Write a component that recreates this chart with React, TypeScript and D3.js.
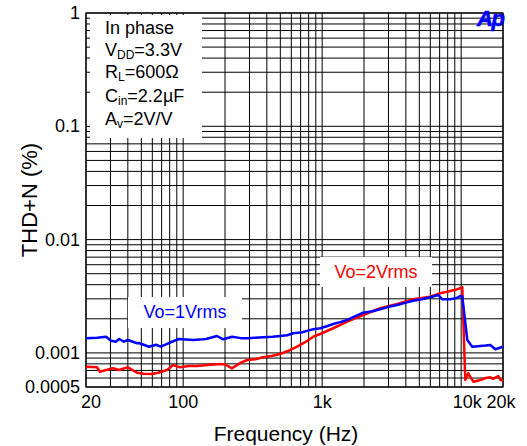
import React from "react";
import * as d3 from "d3";

const W = 527;
const H = 446;

const xTickValues = [20, 100, 1000, 10000, 20000];
const xTickLabels = ["20", "100", "1k", "10k", "20k"];
const yTickValues = [1, 0.1, 0.01, 0.001, 0.0005];
const yTickLabels = ["1", "0.1", "0.01", "0.001", "0.0005"];

const blueFreq = [20, 24, 27.9, 30.3, 32.9, 34.6, 37.5, 40, 46.6, 48, 56.8, 63.8, 69, 79, 93, 118, 139, 146, 175, 194, 225, 260, 289, 330, 376, 440, 499, 560, 619, 720, 800, 862, 968, 1080, 1200, 1350, 1514, 1750, 1974, 2300, 2616, 3000, 3468, 4000, 4520, 5200, 5994, 6840, 7311, 8350, 9300, 9854, 10186, 11068, 12024, 13730, 15000, 16208, 17608, 20000];
const blueThd = [0.001345, 0.00136, 0.00139, 0.00128, 0.001256, 0.001327, 0.001256, 0.0013, 0.001216, 0.001222, 0.001134, 0.00118, 0.001134, 0.001222, 0.001327, 0.0013, 0.001318, 0.001327, 0.00141, 0.001318, 0.00139, 0.00135, 0.001345, 0.00136, 0.001374, 0.00139, 0.00141, 0.00143, 0.001489, 0.00152, 0.00158, 0.001615, 0.001648, 0.00172, 0.001799, 0.00187, 0.001952, 0.00212, 0.002264, 0.00233, 0.002426, 0.00255, 0.002649, 0.00278, 0.00289, 0.00298, 0.003097, 0.003244, 0.002974, 0.002974, 0.00305, 0.003179, 0.00315, 0.0013, 0.001134, 0.001151, 0.00116, 0.001175, 0.001076, 0.001134];

const redFreq = [20, 22, 24, 25.2, 27.9, 31.3, 34.6, 40, 46.6, 52, 59.7, 66, 76.6, 84.6, 95, 110, 126, 150, 184, 200, 225, 260, 289, 330, 376, 430, 499, 580, 661, 760, 862, 968, 1200, 1514, 1974, 2616, 3468, 4520, 5994, 7074, 8350, 9400, 10186, 10706, 11252, 12220, 13730, 15000, 16208, 17000, 18500, 19126, 20000];
const redThd = [0.000755, 0.000752, 0.000746, 0.000682, 0.000706, 0.000731, 0.000706, 0.000746, 0.000668, 0.000655, 0.000651, 0.000668, 0.000706, 0.000782, 0.000746, 0.000766, 0.000766, 0.00078, 0.000798, 0.00079, 0.000731, 0.00082, 0.000866, 0.00088, 0.000915, 0.00094, 0.000978, 0.00105, 0.001134, 0.00125, 0.00139, 0.001468, 0.00165, 0.001886, 0.002159, 0.002477, 0.002704, 0.002974, 0.003133, 0.003357, 0.003518, 0.00365, 0.003793, 0.000577, 0.000661, 0.000557, 0.000577, 0.0006, 0.000609, 0.00059, 0.000625, 0.00058, 0.000569];

const x = d3.scaleLog().domain([20, 20000]).range([86, 503]);
const y = d3.scaleLog().domain([0.0005, 1]).range([387, 13]);

function gridX(): number[] {
  const out: number[] = [];
  for (const dec of [10, 100, 1000, 10000]) {
    for (let m = 1; m <= 9; m++) {
      const v = dec * m;
      if (v >= 20 && v <= 20000) out.push(v);
    }
  }
  return out;
}
function gridY(): number[] {
  const out: number[] = [];
  for (const dec of [0.0001, 0.001, 0.01, 0.1]) {
    for (let m = 1; m <= 9; m++) {
      const v = +(dec * m).toPrecision(3);
      if (v >= 0.0005 && v <= 1) out.push(v);
    }
  }
  out.push(1);
  return out;
}

const line = d3
  .line<[number, number]>()
  .x((d) => x(d[0]))
  .y((d) => y(d[1]));

const bluePts: [number, number][] = blueFreq.map((f, i) => [f, blueThd[i]]);
const redPts: [number, number][] = redFreq.map((f, i) => [f, redThd[i]]);

const FONT = "'Liberation Sans', Arial, Helvetica, sans-serif";
const xLabelOffsets = [5, 0, 0, 6, -2];

export default function App() {
  return (
    <svg
      width={W}
      height={H}
      viewBox={`0 0 ${W} ${H}`}
      style={{ position: "absolute", left: 0, top: 0, background: "#fff" }}
      fontFamily={FONT}
    >
      <rect x={0} y={0} width={W} height={H} fill="#fff" />
      {gridX().map((v) => (
        <line key={"gx" + v} x1={x(v)} x2={x(v)} y1={13} y2={387} stroke="#000" strokeWidth={1} />
      ))}
      {gridY().map((v) => (
        <line key={"gy" + v} x1={86} x2={503} y1={y(v)} y2={y(v)} stroke="#000" strokeWidth={1} />
      ))}
      <rect x={86} y={13} width={417} height={374} fill="none" stroke="#000" strokeWidth={1.2} />

      {/* conditions box */}
      <rect x={90} y={15} width={112} height={123} fill="#fff" />
      <g fontSize={18} fill="#000">
        <text x={105} y={34}>In phase</text>
        <text x={105} y={56}>
          V<tspan fontSize={12} dy={3}>DD</tspan>
          <tspan dy={-3}>=3.3V</tspan>
        </text>
        <text x={105} y={78}>
          R<tspan fontSize={12} dy={3}>L</tspan>
          <tspan dy={-3}>=600Ω</tspan>
        </text>
        <text x={105} y={102}>
          C<tspan fontSize={12} dy={3}>in</tspan>
          <tspan dy={-3}>=2.2µF</tspan>
        </text>
        <text x={105} y={125}>
          A<tspan fontSize={12} dy={3}>v</tspan>
          <tspan dy={-3}>=2V/V</tspan>
        </text>
      </g>

      {/* series labels */}
      <rect x={320} y={257} width={112} height={30} fill="#fff" />
      <text x={376} y={278} fontSize={18} fill="#ff0000" textAnchor="middle">Vo=2Vrms</text>
      <rect x={128} y={297} width={114} height={31} fill="#fff" />
      <text x={185} y={318} fontSize={18} fill="#0000ff" textAnchor="middle">Vo=1Vrms</text>

      <path d={line(redPts) || ""} fill="none" stroke="#ff0000" strokeWidth={2.5} strokeLinejoin="round" />
      <path d={line(bluePts) || ""} fill="none" stroke="#0000ff" strokeWidth={2.5} strokeLinejoin="round" />

      {/* Ap logo */}
      <text x={477} y={26} fontSize={22} fontWeight="bold" fontStyle="italic" fill="#0000ff" stroke="#0000ff" strokeWidth={0.6} letterSpacing={-1.5}>Ap</text>

      {/* y ticks */}
      {yTickValues.map((v, i) => (
        <text key={"yt" + i} x={80} y={y(v) + 6} fontSize={18} textAnchor="end" fill="#000">
          {yTickLabels[i]}
        </text>
      ))}
      {/* x ticks */}
      {xTickValues.map((v, i) => (
        <text key={"xt" + i} x={x(v) + xLabelOffsets[i]} y={408} fontSize={18} textAnchor="middle" fill="#000">
          {xTickLabels[i]}
        </text>
      ))}
      <text x={286} y={441} fontSize={21} textAnchor="middle" fill="#000">Frequency (Hz)</text>
      <text transform="translate(37,200) rotate(-90)" fontSize={22} textAnchor="middle" fill="#000">THD+N (%)</text>
    </svg>
  );
}
